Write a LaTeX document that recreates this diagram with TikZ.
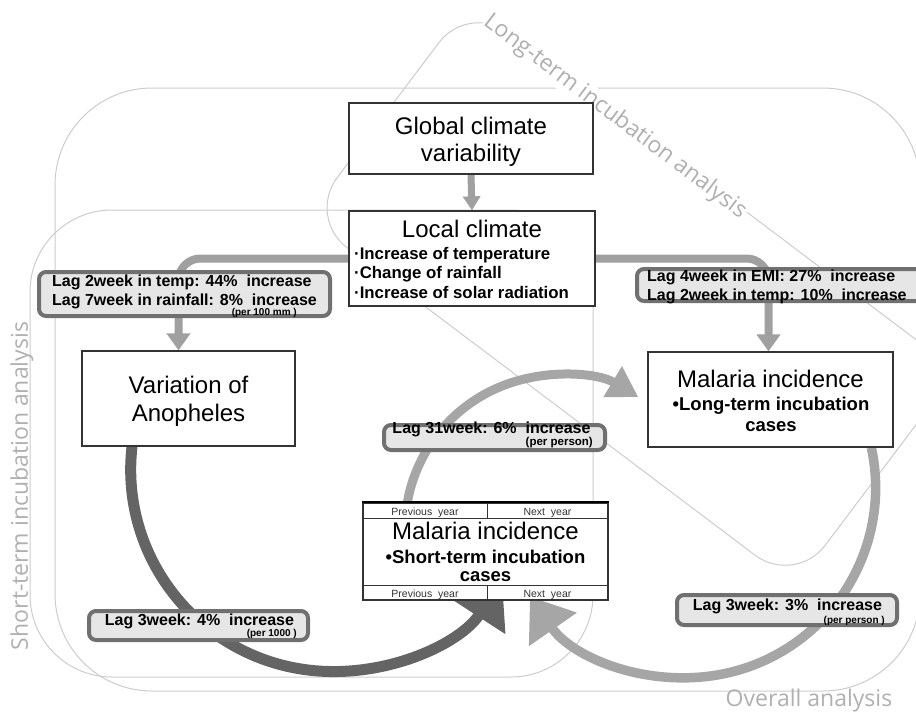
\documentclass[tikz,border=0pt]{standalone}
\usepackage{fontspec}
\setmainfont{Liberation Sans}
\newfontfamily\anafont{Open Sans}
\usetikzlibrary{arrows.meta}
\pgfdeclarelayer{back}
\pgfsetlayers{back,main}

\definecolor{edgegray}{HTML}{CCCCCC}
\definecolor{tagtext}{HTML}{B0B0B0}
\definecolor{darkband}{HTML}{646464}
\definecolor{lightband}{HTML}{A6A6A6}
\definecolor{feedgray}{HTML}{A0A0A0}
\definecolor{lagedge}{HTML}{707070}
\definecolor{lagfill}{HTML}{E6E6E6}
\definecolor{boxedge}{HTML}{333333}

\tikzset{
  region/.style={draw=edgegray, line width=1pt},
  regiontag/.style={text=tagtext, font={\anafont\fontsize{23}{26}\selectfont}, inner sep=1pt},
  mainbox/.style={draw=boxedge, line width=1.3pt, fill=white, inner sep=0pt},
  titletext/.style={font={\fontsize{24}{27}\selectfont}, inner sep=0pt},
  itemtext/.style={font={\bfseries\fontsize{16.8}{19.5}\selectfont}, inner sep=0pt},
  casetext/.style={font={\bfseries\fontsize{18.5}{22}\selectfont}, inner sep=0pt},
  rowline/.style={draw=boxedge, line width=0.8pt},
  rowtext/.style={font={\fontsize{10.5}{12}\selectfont}, text=black!80, inner sep=0pt},
  lagbox/.style={draw=lagedge, line width=4pt, fill=lagfill, rounded corners=7pt, inner sep=0pt},
  lagtext/.style={font={\bfseries\fontsize{16}{18}\selectfont}, inner sep=0pt},
  lagnote/.style={font={\bfseries\fontsize{10}{12}\selectfont}, inner sep=0pt},
  feed/.style={draw=feedgray, line width=8pt, rounded corners=22pt, -{Triangle[width=23pt,length=17pt]}},
  feedthin/.style={draw=feedgray, line width=7pt, -{Triangle[width=17pt,length=14pt]}},
  darkloop/.style={draw=darkband, line width=11pt, -{Triangle[width=62pt,length=44pt]}},
  lightloop/.style={draw=lightband, line width=9.5pt, -{Triangle[width=56pt,length=40pt]}},
  smallloop/.style={draw=lightband, line width=9pt, -{Triangle[width=34pt,length=30pt]}},
}

\begin{document}
\begin{tikzpicture}[x=1pt,y=-1pt]
\useasboundingbox (0,0) rectangle (916,713);

% ---------- boxes ----------
\node[mainbox, minimum width=244pt, minimum height=71pt] (gc) at (471,138.5) {};
\node[titletext, anchor=base] (gct1) at (471,134) {Global climate};
\node[titletext, anchor=base] (gct2) at (471,161) {variability};

\node[mainbox, minimum width=246pt, minimum height=95pt] (lc) at (472,258.5) {};
\node[titletext, anchor=base] (lct) at (472,237) {Local climate};
\node[itemtext, anchor=base west] (lci1) at (354,259) {·Increase of temperature};
\node[itemtext, anchor=base west] (lci2) at (354,278.5) {·Change of rainfall};
\node[itemtext, anchor=base west] (lci3) at (354,298) {·Increase of solar radiation};

\node[mainbox, minimum width=213pt, minimum height=95pt] (var) at (188.5,398.5) {};
\node[titletext, anchor=base] (vart1) at (188.5,393) {Variation of};
\node[titletext, anchor=base] (vart2) at (188.5,421) {Anopheles};

\node[mainbox, minimum width=245pt, minimum height=95pt] (ml) at (770.5,399.5) {};
\node[titletext, anchor=base] (mlt) at (770.5,387) {Malaria incidence};
\node[casetext, anchor=base] (mlb) at (771,410) {•Long-term incubation};
\node[casetext, anchor=base] (mlc) at (771,431) {cases};

% short-term incidence box with year strips
\node[mainbox, minimum width=245pt, minimum height=97pt] (st) at (485.5,551.5) {};
\draw[rowline] (363,503) rectangle (608,518);
\draw[rowline] (487,503) -- (487,518);
\draw[rowline] (363,585) rectangle (608,600);
\draw[rowline] (487,585) -- (487,600);
\draw[draw=black, line width=2pt] (st.north west) -- (st.north east);
\node[rowtext, anchor=base] (prevtop) at (425,515) {Previous~ year};
\node[rowtext, anchor=base] (nexttop) at (547.5,515) {Next~ year};
\node[rowtext, anchor=base] (prevbot) at (425,597) {Previous~ year};
\node[rowtext, anchor=base] (nextbot) at (547.5,597) {Next~ year};
\node[titletext, anchor=base] (stt) at (485.5,539) {Malaria incidence};
\node[casetext, anchor=base] (stb) at (485.5,563) {•Short-term incubation};
\node[casetext, anchor=base] (stc) at (485.5,581) {cases};

% ---------- lag labels ----------
\node[lagbox, minimum width=291pt, minimum height=44pt] (lagA) at (184.5,294) {};
\node[lagtext, anchor=base west] (lagA1) at (52,286.5) {Lag 2week in temp: 44\%~ increase};
\node[lagtext, anchor=base west] (lagA2) at (52,305) {Lag 7week in rainfall: 8\%~ increase};
\node[lagnote, anchor=base east] (lagA3) at (297,315.5) {(per 100 mm )};

\node[lagbox, minimum width=286pt, minimum height=32pt] (lagB) at (780,285) {};
\node[lagtext, anchor=base west] (lagB1) at (647,281.5) {Lag 4week in EMI: 27\%~ increase};
\node[lagtext, anchor=base west] (lagB2) at (647,300) {Lag 2week in temp: 10\%~ increase};

\node[lagbox, minimum width=221pt, minimum height=25pt] (lagC) at (494.5,437.5) {};
\node[lagtext, anchor=base] (lagC1) at (491.5,433) {Lag 31week: 6\%~ increase};
\node[lagnote, font={\bfseries\fontsize{11.5}{13}\selectfont}, anchor=base east] (lagC2) at (593,445) {(per person)};

\node[lagbox, minimum width=219pt, minimum height=29pt] (lagD) at (198.5,625.5) {};
\node[lagtext, anchor=base] (lagD1) at (199.5,625.5) {Lag 3week: 4\%~ increase};
\node[lagnote, anchor=base east] (lagD2) at (297,636.5) {(per 1000 )};

\node[lagbox, minimum width=220pt, minimum height=30pt] (lagE) at (787,610) {};
\node[lagtext, anchor=base] (lagE1) at (787.5,610) {Lag 3week: 3\%~ increase};
\node[lagnote, anchor=base east] (lagE2) at (885,623) {(per person )};

% ---------- analysis region tags ----------
\node[regiontag, rotate=90] (shorttag) at (22,486) {Short-term incubation analysis};
\node[regiontag, anchor=base] (overtag) at (809,706) {Overall analysis};

% ---------- regions, loops and feeds beneath the boxes ----------
\begin{pgfonlayer}{back}
\draw[region, rounded corners=97pt] (55,88) rectangle (920,691);
\draw[region, rounded corners=82pt] (30,210) rectangle (593,677);
\node[region, rotate=-37, minimum width=611pt, minimum height=269pt,
      rounded corners=50pt, inner sep=0pt] (longreg) at (632,294) {};
\node[regiontag, fill=white, rotate=-37] (longtag) at (615,117) {Long-term incubation analysis};

\draw[feedthin] (gc.south) -- (lc.north);
\draw[feed] (lc.west) -| ([xshift=-10pt]var.north);
\draw[feed] (lc.east) -| ([xshift=-2pt]ml.north);

\draw[darkloop] ([xshift=-56.5pt]var.south) arc[start angle=186.5, end angle=33, radius=202];
\draw[smallloop] ([xshift=45pt]st.north west) arc[start angle=190, end angle=301, radius=154];
\draw[lightloop] ([xshift=-22.3pt]ml.south east) arc[start angle=-12.15, end angle=145, radius=190];
\end{pgfonlayer}
\end{tikzpicture}
\end{document}
